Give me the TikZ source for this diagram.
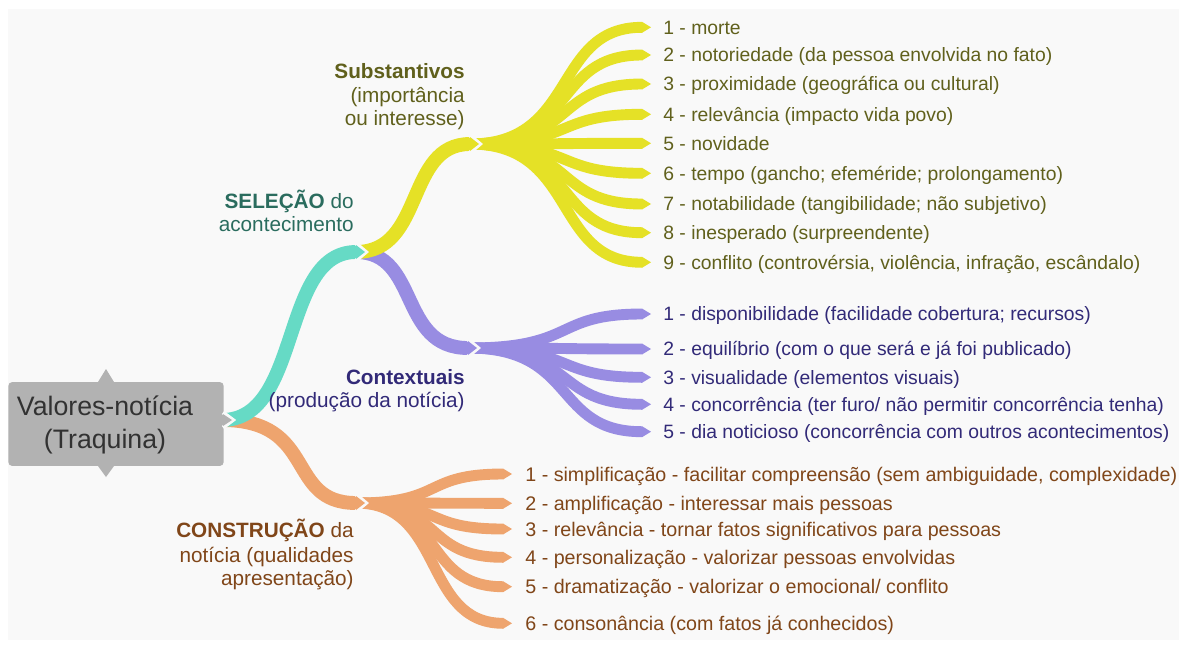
\documentclass[tikz,border=0pt]{standalone}
\usepackage{fontspec}
\setmainfont{Liberation Sans}
\usetikzlibrary{calc}
\definecolor{bg}{RGB}{249,249,249}
\definecolor{cteal}{RGB}{102,218,197}
\definecolor{cyel}{RGB}{229,225,38}
\definecolor{cpur}{RGB}{152,140,226}
\definecolor{corg}{RGB}{238,164,110}
\definecolor{cgray}{RGB}{178,178,178}
\definecolor{tolive}{RGB}{96,96,28}
\definecolor{tteal}{RGB}{42,108,94}
\definecolor{tpur}{RGB}{50,42,120}
\definecolor{tbrown}{RGB}{128,70,25}
\definecolor{troot}{RGB}{50,50,50}
\newcommand\mmtip[3]{\fill[#3] ($(#1)+(0,-#2)$) -- ($(#1)+(9,0)$) -- ($(#1)+(0,#2)$) -- cycle;}
\newcommand\mmgap[2]{\draw[bg,line width=2.2pt,line join=miter] ($(#1)+(0,-#2-1.5)$) -- ($(#1)+(10,0)$) -- ($(#1)+(0,#2+1.5)$);}
\begin{document}
\begin{tikzpicture}[x=0.02cm,y=-0.02cm,
  leaf/.style={line width=6.2pt},
  trunk/.style={line width=7.9pt},
  ltxt/.style={anchor=base west,inner sep=0pt,font=\fontsize{11.0}{13}\selectfont},
  otxt/.style={anchor=base west,inner sep=0pt,font=\fontsize{11.2}{13}\selectfont},
  lab/.style={anchor=base east,inner sep=0pt,font=\fontsize{11.8}{13.6}\selectfont},
  rootbox/.style={fill=cgray,rounded corners=2pt,minimum width=216*0.5669pt,minimum height=84*0.5669pt,inner sep=0pt},
  roottxt/.style={align=center,inner sep=0pt,text=troot,font=\fontsize{15.2}{18.4}\selectfont}]
\useasboundingbox (0,0) rectangle (1179,646);
\fill[white] (0,0) rectangle (1179,646);
\fill[bg] (8,9) rectangle (1179,640);

\coordinate (r0) at (222,420);
\coordinate (jsel) at (356,252);
\coordinate (jsub) at (470,144);
\coordinate (jctx) at (468,348);
\coordinate (jcon) at (356,503);

% yellow leaves
\foreach \i/\yy/\t in {1/27.3/{1 - morte},
  2/55/{2 - notoriedade (da pessoa envolvida no fato)},
  3/84/{3 - proximidade (geográfica ou cultural)},
  4/114.3/{4 - relevância (impacto vida povo)},
  5/143.3/{5 - novidade},
  6/173.3/{6 - tempo (gancho; efeméride; prolongamento)},
  7/204/{7 - notabilidade (tangibilidade; não subjetivo)},
  8/232.7/{8 - inesperado (surpreendente)},
  9/262.3/{9 - conflito (controvérsia, violência, infração, escândalo)}}{
  \coordinate (ye\i) at (642,\yy);
  \draw[leaf,cyel] (jsub) .. controls (578,144) and (552,\yy) .. (ye\i);
  \mmtip{ye\i}{5.5}{cyel}
  \node[ltxt,text=tolive] (yt\i) at (663,\yy+6.9) {\t};
}
% purple leaves
\foreach \i/\yy/\t in {1/314/{1 - disponibilidade (facilidade cobertura; recursos)},
  2/349/{2 - equilíbrio (com o que será e já foi publicado)},
  3/377.3/{3 - visualidade (elementos visuais)},
  4/404.3/{4 - concorrência (ter furo/ não permitir concorrência tenha)},
  5/431.7/{5 - dia noticioso (concorrência com outros acontecimentos)}}{
  \coordinate (pe\i) at (642,\yy);
  \draw[leaf,cpur] (jctx) .. controls (578,348) and (552,\yy) .. (pe\i);
  \mmtip{pe\i}{5.5}{cpur}
  \node[ltxt,text=tpur] (pt\i) at (663,\yy+6.9) {\t};
}
% orange leaves
\foreach \i/\yy/\t in {1/474/{1 - simplificação - facilitar compreensão (sem ambiguidade, complexidade)},
  2/503.3/{2 - amplificação - interessar mais pessoas},
  3/529/{3 - relevância - tornar fatos significativos para pessoas},
  4/557.3/{4 - personalização - valorizar pessoas envolvidas},
  5/586.7/{5 - dramatização - valorizar o emocional/ conflito},
  6/623.3/{6 - consonância (com fatos já conhecidos)}}{
  \coordinate (oe\i) at (503,\yy);
  \draw[leaf,corg] (jcon) .. controls (445,503) and (422,\yy) .. (oe\i);
  \mmtip{oe\i}{5.5}{corg}
  \node[otxt,text=tbrown] (ot\i) at (525,\yy+7) {\t};
}

% second level
\draw[trunk,cpur] (jsel) .. controls (420,252) and (398,348) .. (jctx);
\mmgap{jctx}{7}
\mmtip{jctx}{7}{cpur}
\draw[trunk,cyel] (jsel) .. controls (425,252) and (405,144) .. (jsub);
\mmgap{jsub}{7}
\mmtip{jsub}{7}{cyel}

% first level
\draw[trunk,corg] (r0) .. controls (318,420) and (285,503) .. (jcon);
\mmgap{jcon}{7}
\mmtip{jcon}{7}{corg}
\draw[trunk,cteal] (r0) .. controls (302,420) and (280,252) .. (jsel);
\mmgap{jsel}{7}
\mmtip{jsel}{7}{cteal}

% root
\node[rootbox] (root) at (116,424) {};
\fill[cgray] (106,369) -- (114,382) -- (98,382) -- cycle;
\fill[cgray] (106,477) -- (114,466) -- (98,466) -- cycle;
\coordinate (rt) at (223,420);
\mmgap{rt}{6}
\mmtip{rt}{6}{cgray}
\node[roottxt] (roottext) at (105,425) {Valores-notícia\\(Traquina)};

% labels
\node[lab,text=tolive] (sub1) at (465,78) {\textbf{Substantivos}};
\node[lab,text=tolive] (sub2) at (465,102.3) {(importância};
\node[lab,text=tolive] (sub3) at (465,125.6) {ou interesse)};
\node[lab,text=tteal] (sel1) at (354,208) {\textbf{SELEÇÃO} do};
\node[lab,text=tteal] (sel2) at (354,231.3) {acontecimento};
\node[lab,text=tpur] (ctx1) at (465,384) {\textbf{Contextuais}};
\node[lab,text=tpur] (ctx2) at (465,407.3) {(produção da notícia)};
\node[lab,text=tbrown] (con1) at (354,537.3) {\textbf{CONSTRUÇÃO} da};
\node[lab,text=tbrown] (con2) at (354,562.3) {notícia (qualidades};
\node[lab,text=tbrown] (con3) at (354,585.6) {apresentação)};
\end{tikzpicture}
\end{document}
